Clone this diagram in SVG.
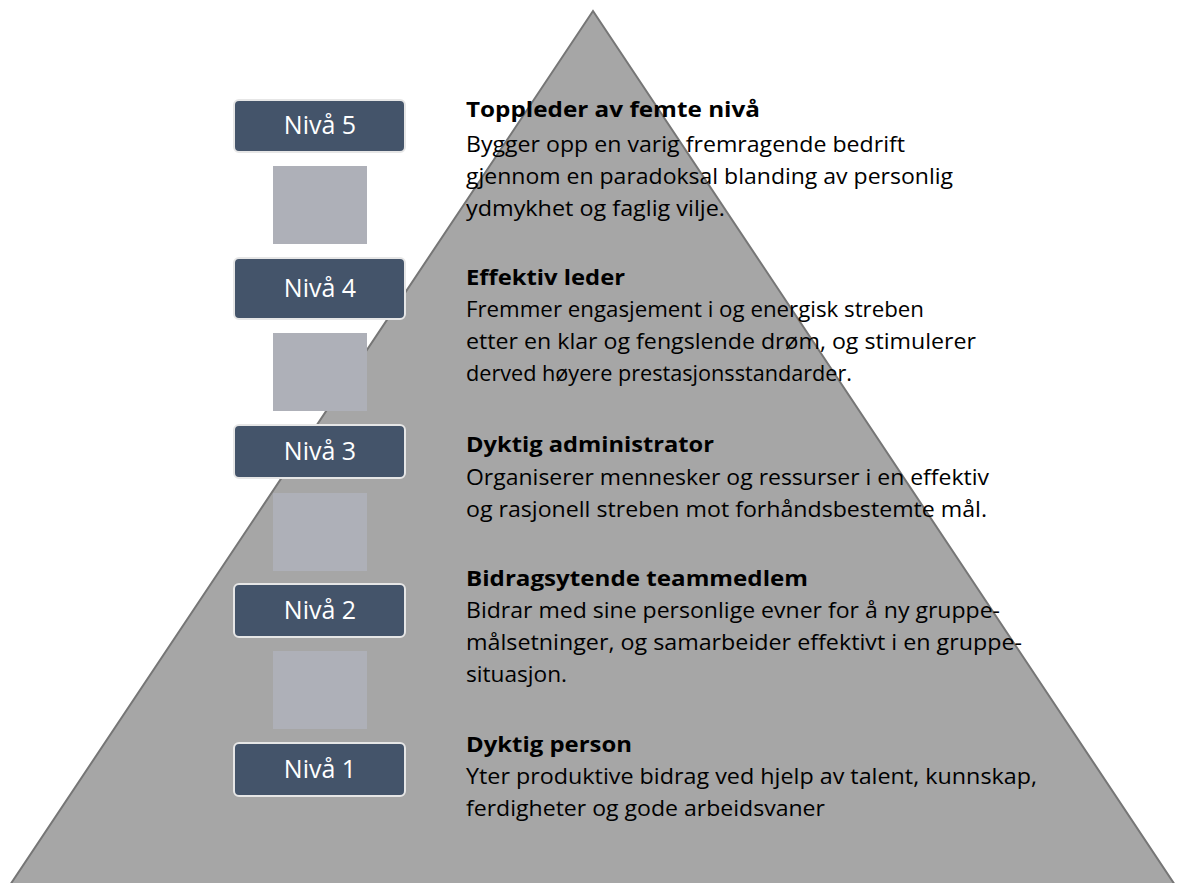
<svg xmlns="http://www.w3.org/2000/svg" width="1199" height="883" viewBox="0 0 1199 883">
  <style>
    .lvl { fill: #44546a; stroke: #e6e6e6; stroke-width: 2; }
    .lvlt { fill: #ffffff; font-family: "Open Sans", "Noto Sans", "Liberation Sans", sans-serif; font-size: 25px; text-anchor: middle; }
    .conn { fill: #aeb0b8; }
    .ttl { fill: #000000; font-family: "Open Sans", "Noto Sans", "Liberation Sans", sans-serif; font-size: 21.5px; font-weight: bold; }
    .txt { fill: #000000; font-family: "Open Sans", "Noto Sans", "Liberation Sans", sans-serif; font-size: 21.5px; }
  </style>
  <rect x="0" y="0" width="1199" height="883" fill="#ffffff"/>
  <g id="pyramid">
    <polygon points="593,11 1185,900 0,900" fill="#a6a6a6" stroke="#767676" stroke-width="2" stroke-linejoin="miter"/>
  </g>
  <g id="connectors">
    <rect class="conn" x="273" y="166" width="94" height="78"/>
    <rect class="conn" x="273" y="333" width="94" height="78"/>
    <rect class="conn" x="273" y="493" width="94" height="78"/>
    <rect class="conn" x="273" y="651" width="94" height="78"/>
  </g>
  <g id="niva5">
    <rect class="lvl" x="234" y="100" width="171" height="52" rx="5"/>
    <text class="lvlt" x="320" y="134">Nivå 5</text>
  </g>
  <g id="niva4">
    <rect class="lvl" x="234" y="258" width="171" height="61" rx="5"/>
    <text class="lvlt" x="320" y="297">Nivå 4</text>
  </g>
  <g id="niva3">
    <rect class="lvl" x="234" y="425" width="171" height="53" rx="5"/>
    <text class="lvlt" x="320" y="460">Nivå 3</text>
  </g>
  <g id="niva2">
    <rect class="lvl" x="234" y="584" width="171" height="53" rx="5"/>
    <text class="lvlt" x="320" y="619">Nivå 2</text>
  </g>
  <g id="niva1">
    <rect class="lvl" x="234" y="743" width="171" height="53" rx="5"/>
    <text class="lvlt" x="320" y="778">Nivå 1</text>
  </g>
  <g id="desc5">
    <text class="ttl" x="466" y="117" textLength="294" lengthAdjust="spacingAndGlyphs">Toppleder av femte nivå</text>
    <text class="txt" x="466" y="152" textLength="439" lengthAdjust="spacingAndGlyphs">Bygger opp en varig fremragende bedrift</text>
    <text class="txt" x="466" y="184" textLength="487" lengthAdjust="spacingAndGlyphs">gjennom en paradoksal blanding av personlig</text>
    <text class="txt" x="466" y="216" textLength="259" lengthAdjust="spacingAndGlyphs">ydmykhet og faglig vilje.</text>
  </g>
  <g id="desc4">
    <text class="ttl" x="466" y="285" textLength="159" lengthAdjust="spacingAndGlyphs">Effektiv leder</text>
    <text class="txt" x="466" y="317" textLength="458" lengthAdjust="spacingAndGlyphs">Fremmer engasjement i og energisk streben</text>
    <text class="txt" x="466" y="349" textLength="510" lengthAdjust="spacingAndGlyphs">etter en klar og fengslende drøm, og stimulerer</text>
    <text class="txt" x="466" y="381" textLength="386" lengthAdjust="spacingAndGlyphs">derved høyere prestasjonsstandarder.</text>
  </g>
  <g id="desc3">
    <text class="ttl" x="466" y="452" textLength="248" lengthAdjust="spacingAndGlyphs">Dyktig administrator</text>
    <text class="txt" x="466" y="485" textLength="523" lengthAdjust="spacingAndGlyphs">Organiserer mennesker og ressurser i en effektiv</text>
    <text class="txt" x="466" y="517" textLength="521" lengthAdjust="spacingAndGlyphs">og rasjonell streben mot forhåndsbestemte mål.</text>
  </g>
  <g id="desc2">
    <text class="ttl" x="466" y="586" textLength="342" lengthAdjust="spacingAndGlyphs">Bidragsytende teammedlem</text>
    <text class="txt" x="466" y="618" textLength="534" lengthAdjust="spacingAndGlyphs">Bidrar med sine personlige evner for å ny gruppe-</text>
    <text class="txt" x="466" y="650" textLength="556" lengthAdjust="spacingAndGlyphs">målsetninger, og samarbeider effektivt i en gruppe-</text>
    <text class="txt" x="466" y="682" textLength="101" lengthAdjust="spacingAndGlyphs">situasjon.</text>
  </g>
  <g id="desc1">
    <text class="ttl" x="466" y="752" textLength="166" lengthAdjust="spacingAndGlyphs">Dyktig person</text>
    <text class="txt" x="466" y="784" textLength="571" lengthAdjust="spacingAndGlyphs">Yter produktive bidrag ved hjelp av talent, kunnskap,</text>
    <text class="txt" x="466" y="816" textLength="359" lengthAdjust="spacingAndGlyphs">ferdigheter og gode arbeidsvaner</text>
  </g>
</svg>
